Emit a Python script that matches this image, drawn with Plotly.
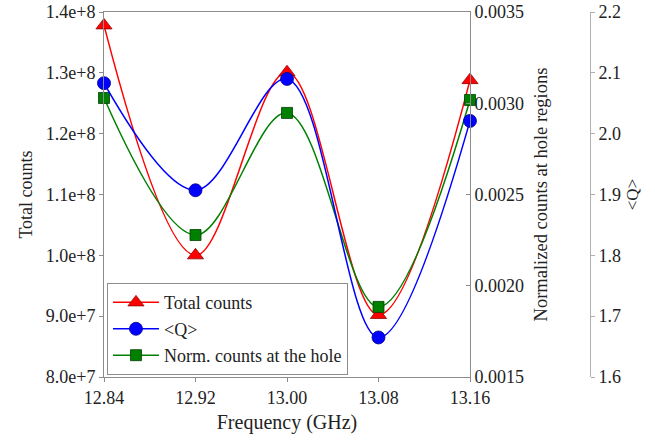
import plotly.graph_objects as go

freq = [12.84, 12.92, 13.00, 13.08, 13.16]
total_counts = [1.378e8, 1.0e8, 1.301e8, 9.02e7, 1.288e8]
q_mean = [2.083, 1.907, 2.090, 1.665, 2.021]
norm_counts = [0.003029, 0.002278, 0.002947, 0.001884, 0.003018]

FONT = "Liberation Serif"
AX = "#8c8c8c"
TXT = "#222222"

fig = go.Figure()
fig.add_trace(go.Scatter(
    x=freq, y=total_counts, name="Total counts", mode="lines+markers", cliponaxis=False,
    line=dict(color="#ff0000", width=1.5, shape="spline", smoothing=1),
    marker=dict(symbol="triangle-up", size=14, color="#ff0000", line=dict(color="#900000", width=0.8)),
    yaxis="y"))
fig.add_trace(go.Scatter(
    x=freq, y=q_mean, name="<Q>", mode="lines+markers", cliponaxis=False,
    line=dict(color="#0000ff", width=1.5, shape="spline", smoothing=1),
    marker=dict(symbol="circle", size=13, color="#0000ff", line=dict(color="#000090", width=0.8)),
    yaxis="y3"))
fig.add_trace(go.Scatter(
    x=freq, y=norm_counts, name="Norm. counts at the hole", mode="lines+markers", cliponaxis=False,
    line=dict(color="#008000", width=1.5, shape="spline", smoothing=1),
    marker=dict(symbol="square", size=11, color="#008000", line=dict(color="#004000", width=0.8)),
    yaxis="y2"))

FW, FH = 655, 446
L, R = 104, 600
T, B = 12, 377
W = R - L
xend = (470 - L) / W
q_pos = (590 - L) / W

tickfont = dict(family=FONT, size=18, color=TXT)

fig.update_layout(
    width=FW, height=FH,
    margin=dict(l=L, r=FW - R, t=T, b=FH - B),
    paper_bgcolor="white", plot_bgcolor="white",
    font=dict(family=FONT, size=18, color=TXT),
    showlegend=True,
    legend=dict(x=0.006, y=0.005, xanchor="left", yanchor="bottom",
                bordercolor=AX, borderwidth=1, bgcolor="white",
                font=dict(family=FONT, size=18, color=TXT),
                tracegroupgap=0, itemwidth=46),
    xaxis=dict(domain=[0, xend], range=[12.84, 13.16], tickvals=freq,
               ticktext=["12.84", "12.92", "13.00", "13.08", "13.16"],
               showgrid=False, zeroline=False, showline=True, linecolor=AX,
               mirror=True, ticks="outside", ticklen=4, tickcolor=AX,
               tickfont=tickfont, automargin=False,
               title=dict(text="Frequency (GHz)", font=dict(size=20), standoff=8)),
    yaxis=dict(range=[8.0e7, 1.4e8], tickvals=[8e7, 9e7, 1e8, 1.1e8, 1.2e8, 1.3e8, 1.4e8],
               ticktext=["8.0e+7", "9.0e+7", "1.0e+8", "1.1e+8", "1.2e+8", "1.3e+8", "1.4e+8"],
               showgrid=False, zeroline=False, showline=True, linecolor=AX,
               ticks="outside", ticklen=4, tickcolor=AX, tickfont=tickfont, automargin=False,
               title=dict(text="Total counts", font=dict(size=18), standoff=8)),
    yaxis2=dict(overlaying="y", side="right", anchor="x", range=[0.0015, 0.0035],
                tickvals=[0.0015, 0.0020, 0.0025, 0.0030, 0.0035],
                ticktext=["0.0015", "0.0020", "0.0025", "0.0030", "0.0035"],
                showgrid=False, zeroline=False, showline=True, linecolor=AX,
                ticks="inside", ticklen=4, tickcolor=AX, tickfont=tickfont, automargin=False,
                title=dict(text="Normalized counts at hole regions", font=dict(size=18.5), standoff=10)),
    yaxis3=dict(overlaying="y", side="right", anchor="free", position=q_pos,
                range=[1.6, 2.2], tickvals=[1.6, 1.7, 1.8, 1.9, 2.0, 2.1, 2.2],
                ticktext=["1.6", "1.7", "1.8", "1.9", "2.0", "2.1", "2.2"],
                showgrid=False, zeroline=False, showline=True, linecolor="#b0b0b0",
                ticks="outside", ticklen=4, tickcolor="#b0b0b0", tickfont=tickfont, automargin=False,
                title=dict(text="<Q>", font=dict(size=17), standoff=6)),
)

fig.write_html("out.html", config={"displayModeBar": False},
               post_script="document.body.style.margin='0';document.body.style.overflow='hidden';")
